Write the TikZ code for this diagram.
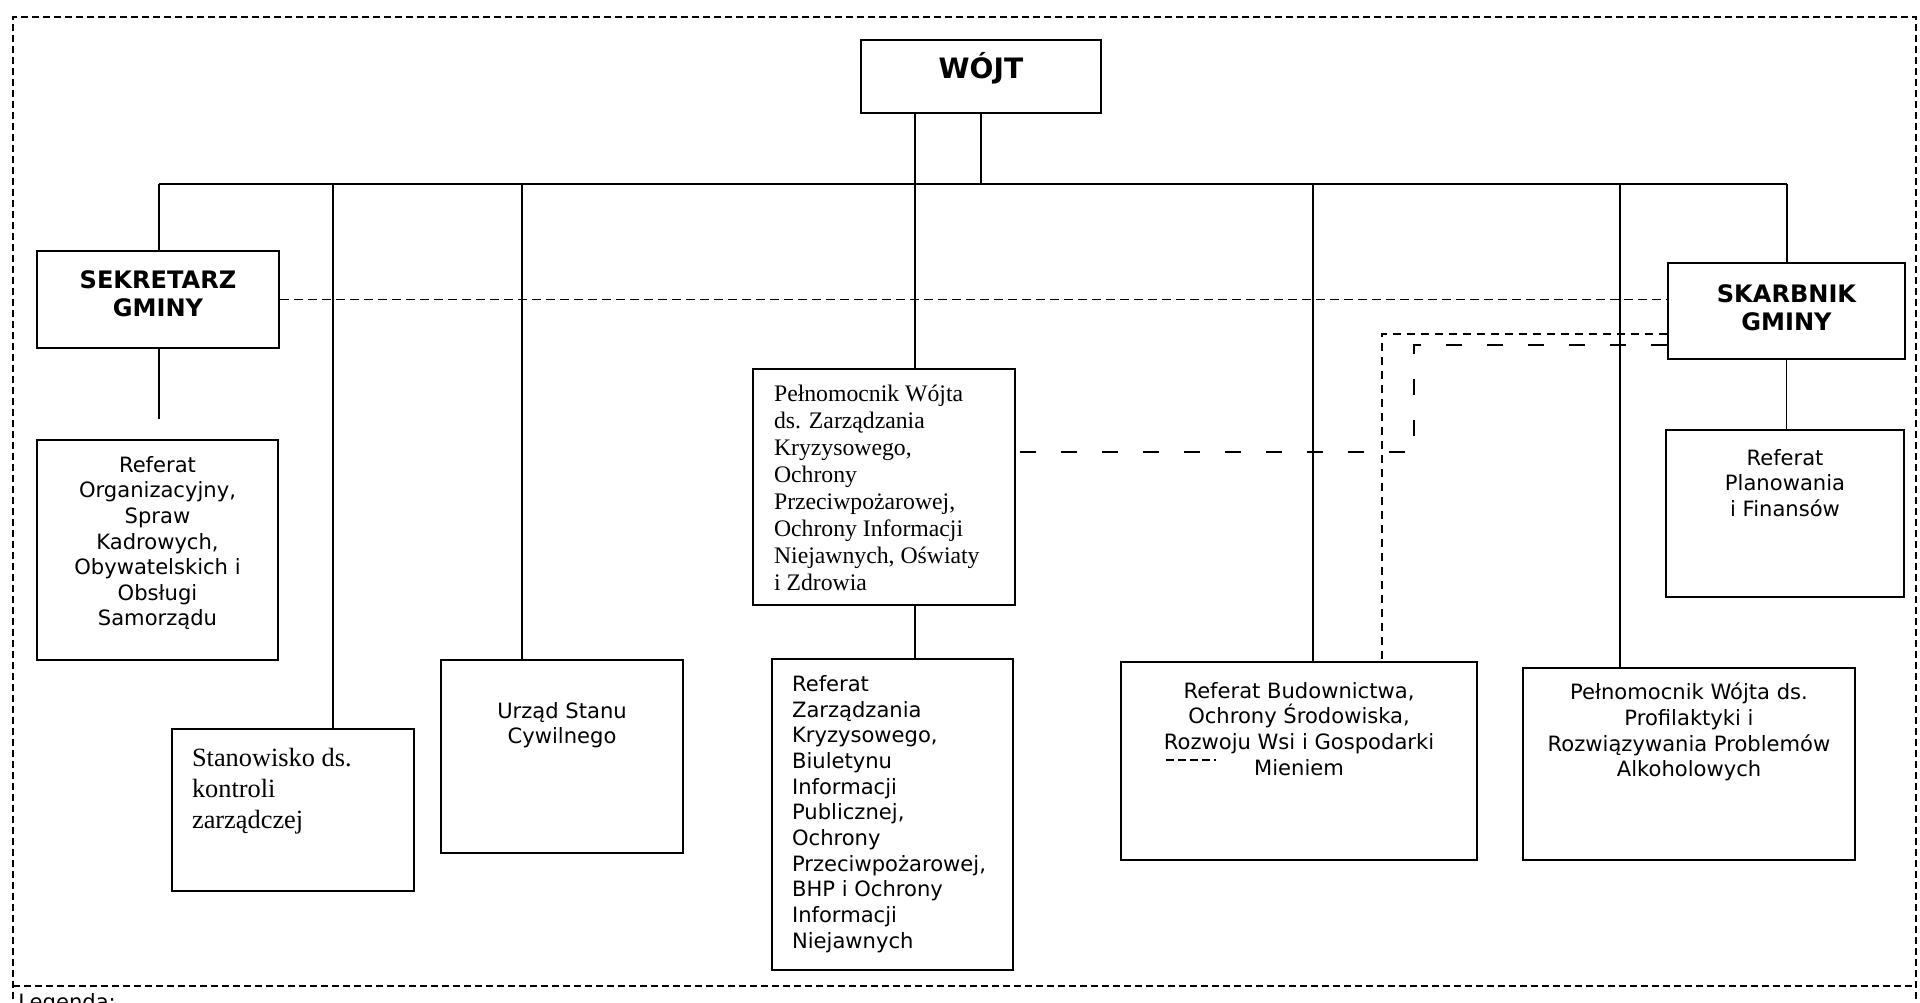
\documentclass[tikz,border=0pt]{standalone}
\usepackage{fontspec}
\setmainfont{Liberation Serif}
\setsansfont{DejaVu Sans}
\usetikzlibrary{positioning, calc}
\tikzset{
unit/.style 2 args = {rectangle, draw, line width = 1.5pt, inner sep = 0pt,
   minimum width = #1, minimum height = #2},
head/.style = {font = \sffamily\bfseries\fontsize{13.7}{16}\selectfont,
   align = center, inner sep = 0pt},
sanstext/.style = {font = \sffamily\fontsize{12}{14.6}\selectfont,
   align = center, inner sep = 0pt},
seriftext/.style = {font = \rmfamily\fontsize{13.5}{15.4}\selectfont,
   align = left, inner sep = 0pt},
link/.style = {line width = 1.1pt},
border/.style = {line width = 1.1pt, dash pattern = on 0.14cm off 0.08cm},
supervision/.style = {line width = 1.1pt, dash pattern = on 0.18cm off 0.1cm},
finedash/.style = {line width = 1pt, dash pattern = on 0.16cm off 0.12cm},
longdash/.style = {line width = 1.4pt, dash pattern = on 0.32cm off 0.5cm}
}

\begin{document}
\begin{tikzpicture}[x = 0.02cm, y = -0.02cm]

\useasboundingbox (0, 0) rectangle (1920, 1002);

%% Frame
\draw [border] (13, 1010) -- (13, 17) -- (1916, 17) -- (1916, 1010);
\draw [border] (13, 986) -- (1916, 986);
\node [sanstext, anchor = north west] (legend) at (18, 993) {Legenda:};

%% Heads
\node [unit = {4.80cm}{1.46cm}] (wojt) at (981, 76.5) {};
\node [head, font = \sffamily\bfseries\fontsize{16}{19}\selectfont] (wojt-txt)
   at ([yshift = 0.17cm]wojt.center) {WÓJT};

\node [unit = {4.84cm}{1.94cm}] (sek) at (158, 299.5) {};
\node [head] (sek-txt) at ([yshift = 0.11cm]sek.center) {SEKRETARZ\\GMINY};

\node [unit = {4.74cm}{1.92cm}] (skarb) at (1786.5, 311) {};
\node [head] (skarb-txt) at ([yshift = 0.07cm]skarb.center) {SKARBNIK\\GMINY};

%% Units
\node [unit = {4.82cm}{4.40cm}] (orgref) at (157.5, 550) {};
\node [sanstext] (orgref-txt) [below = 0.34cm of orgref.north]
   {Referat\\Organizacyjny,\\Spraw\\Kadrowych,\\Obywatelskich i\\Obsługi\\Samorządu};

\node [unit = {4.84cm}{3.24cm}] (stan) at (293, 810) {};
\node [seriftext, font = \rmfamily\fontsize{15}{17.6}\selectfont] (stan-txt)
   [below right = 0.40cm and 0.42cm of stan.north west]
   {Stanowisko ds.\\kontroli\\zarządczej};

\node [unit = {4.84cm}{3.86cm}] (urzad) at (562, 756.5) {};
\node [sanstext] (urzad-txt) [below = 0.86cm of urzad.north] {Urząd Stanu\\Cywilnego};

\node [unit = {5.24cm}{4.72cm}] (pelzk) at (884, 487) {};
\node [seriftext] (pelzk-txt) [below right = 0.34cm and 0.44cm of pelzk.north west]
   {Pełnomocnik Wójta\\ds. Zarządzania\\Kryzysowego,\\Ochrony\\Przeciwpożarowej,\\Ochrony Informacji\\Niejawnych, Oświaty\\i Zdrowia};

\node [unit = {4.82cm}{6.22cm}] (refzk) at (892.5, 814.5) {};
\node [sanstext, align = left] (refzk-txt) [below right = 0.35cm and 0.42cm of refzk.north west]
   {Referat\\Zarządzania\\Kryzysowego,\\Biuletynu\\Informacji\\Publicznej,\\Ochrony\\Przeciwpożarowej,\\BHP i Ochrony\\Informacji\\Niejawnych};

\node [unit = {7.12cm}{3.96cm}] (refbud) at (1299, 761) {};
\node [sanstext] (refbud-txt) [below = 0.42cm of refbud.north]
   {Referat Budownictwa,\\Ochrony Środowiska,\\Rozwoju Wsi i Gospodarki\\Mieniem};
\draw [finedash, dash pattern = on 0.16cm off 0.08cm, line width = 0.8pt] (1166, 760) -- ++(50, 0);

\node [unit = {6.64cm}{3.84cm}] (refprof) at (1689, 764) {};
\node [sanstext] (refprof-txt) [below = 0.32cm of refprof.north]
   {Pełnomocnik Wójta ds.\\Profilaktyki i\\Rozwiązywania Problemów\\Alkoholowych};

\node [unit = {4.76cm}{3.34cm}] (refplan) at (1785, 513.5) {};
\node [sanstext] (refplan-txt) [below = 0.40cm of refplan.north]
   {Referat\\Planowania\\i Finansów};

%% Subordination
\coordinate (bus-w) at (159, 184);
\coordinate (bus-e) at (1787, 184);
\draw [link] (bus-w) -- (bus-e);
\draw [link] (wojt.south) -- (wojt.south |- bus-w);

\coordinate (tap-pel) at (915, 184);
\draw [link] (tap-pel |- wojt.south) -- (tap-pel |- pelzk.north);
\draw [link] (tap-pel |- pelzk.south) -- (tap-pel |- refzk.north);

\foreach \i/\j in {159/sek, 333/stan, 522/urzad, 1313/refbud, 1620/refprof, 1787/skarb} {
   \coordinate (tap-\j) at (\i, 184);
   \draw [link] (tap-\j) -- (tap-\j |- \j.north);
}

\coordinate (sek-end) at (159, 419);
\draw [link] (sek-end |- sek.south) -- (sek-end);
\draw [link] (skarb.south) -- (skarb.south |- refplan.north);

%% Supervision
\draw [supervision] (sek.east) -- (sek.east -| skarb.west);

\coordinate (fd-bend) at (1382, 334);
\draw [finedash] (fd-bend -| skarb.west) -- (fd-bend) -- (fd-bend |- refbud.north);

\coordinate (ld-top) at (1414, 345);
\coordinate (ld-bot) at (1414, 452);
\draw [longdash] (ld-top -| skarb.west) -- (ld-top) -- (ld-bot) -- (ld-bot -| pelzk.east);

\end{tikzpicture}
\end{document}
